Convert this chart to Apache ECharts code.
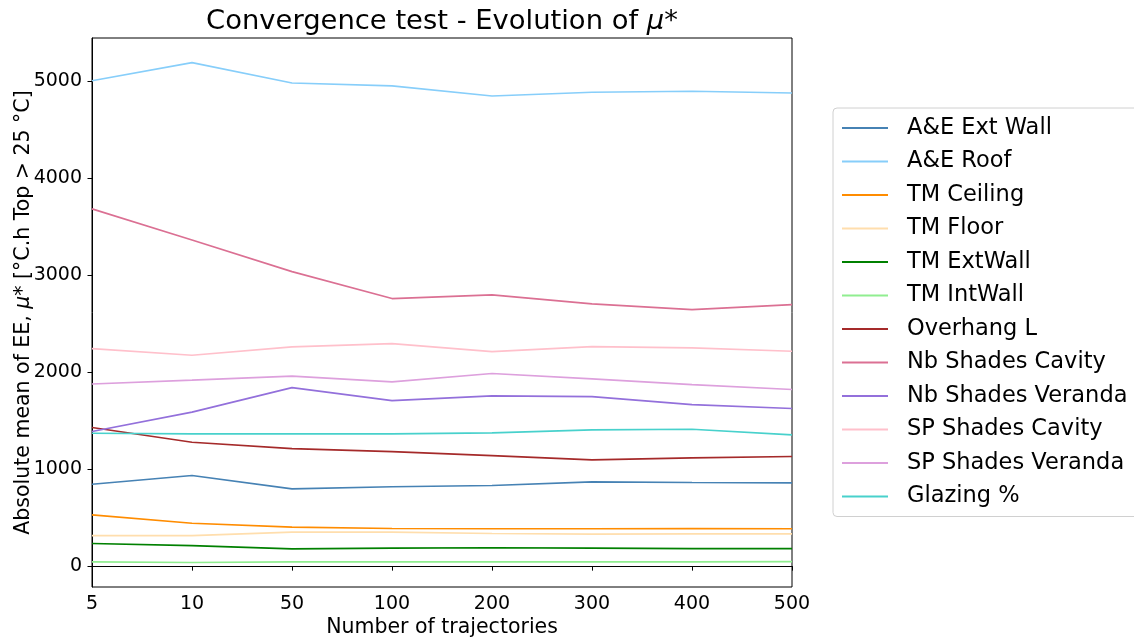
<!DOCTYPE html>
<html>
<head>
<meta charset="utf-8">
<script src="https://cdn.jsdelivr.net/npm/echarts@6/dist/echarts.min.js"></script>
<style>
html,body{margin:0;padding:0;background:#fff;}
#chart{width:1134px;height:641px;}
</style>
</head>
<body>
<div id="chart"></div>
<script>
const categories = ['5', '10', '50', '100', '200', '300', '400', '500'];

const aeExtWall        = [845, 934, 797, 818, 831, 869, 862, 859];
const aeRoof           = [5006, 5192, 4982, 4952, 4848, 4887, 4897, 4879];
const tmCeiling        = [529, 443, 402, 388, 385, 385, 387, 385];
const tmFloor          = [315, 315, 351, 351, 336, 330, 333, 333];
const tmExtWall        = [233, 212, 178, 186, 189, 186, 181, 181];
const tmIntWall        = [44, 37, 44, 44, 44, 44, 44, 47];
const overhangL        = [1429, 1278, 1212, 1181, 1140, 1096, 1116, 1130];
const nbShadesCavity   = [3684, 3364, 3037, 2759, 2797, 2704, 2645, 2697];
const nbShadesVeranda  = [1388, 1588, 1841, 1707, 1756, 1748, 1666, 1625];
const spShadesCavity   = [2243, 2175, 2261, 2295, 2212, 2264, 2251, 2216];
const spShadesVeranda  = [1879, 1918, 1959, 1900, 1986, 1931, 1872, 1821];
const glazing          = [1371, 1364, 1364, 1364, 1374, 1405, 1412, 1354];

const seriesNames = ['A&E Ext Wall', 'A&E Roof', 'TM Ceiling', 'TM Floor', 'TM ExtWall', 'TM IntWall',
  'Overhang L', 'Nb Shades Cavity', 'Nb Shades Veranda', 'SP Shades Cavity', 'SP Shades Veranda', 'Glazing %'];
const seriesData = [aeExtWall, aeRoof, tmCeiling, tmFloor, tmExtWall, tmIntWall,
  overhangL, nbShadesCavity, nbShadesVeranda, spShadesCavity, spShadesVeranda, glazing];
const seriesColors = ['#4682B4', '#87CEFA', '#FF8C00', '#FFDEAD', '#008000', '#90EE90',
  '#A52A2A', '#DB7093', '#9370DB', '#FFC0CB', '#DDA0DD', '#48D1CC'];

const font = 'DejaVu Sans';
const chart = echarts.init(document.getElementById('chart'));

chart.setOption({
  animation: false,
  backgroundColor: '#fff',
  textStyle: { fontFamily: font },
  title: {
    text: 'Convergence test - Evolution of {i|μ}*',
    left: 437,
    top: 3,
    textAlign: 'center',
    textStyle: {
      fontFamily: font, fontSize: 27.4, fontWeight: 'normal', color: '#000',
      rich: { i: { fontFamily: font, fontSize: 27.4, fontStyle: 'italic', color: '#000' } }
    }
  },
  grid: {
    left: 92, right: 342, top: 38, bottom: 54,
    containLabel: false,
    outerBoundsMode: 'none',
    show: true, borderColor: '#000', borderWidth: 1, backgroundColor: 'transparent'
  },
  legend: {
    orient: 'vertical',
    left: 833,
    top: 108,
    padding: [8, 30, 8, 9],
    itemGap: 9.5,
    itemWidth: 46,
    itemHeight: 2,
    icon: 'rect',
    borderColor: '#d0d0d0',
    borderWidth: 1,
    borderRadius: 4,
    backgroundColor: '#fff',
    textStyle: { fontFamily: font, fontSize: 22.5, color: '#000', lineHeight: 24, padding: [0, 0, 0, 14] },
    data: seriesNames
  },
  xAxis: {
    type: 'category',
    data: categories,
    boundaryGap: false,
    name: 'Number of trajectories',
    nameLocation: 'middle',
    nameGap: 30,
    nameMoveOverlap: false,
    nameTextStyle: { fontFamily: font, fontSize: 20.5, color: '#000' },
    axisLine: { show: true, lineStyle: { color: '#000', width: 1 } },
    axisTick: { show: true, inside: false, length: 4.5, lineStyle: { color: '#000' } },
    axisLabel: { fontFamily: font, fontSize: 19, color: '#000', margin: 8 },
    splitLine: { show: false }
  },
  yAxis: {
    type: 'value',
    min: -215,
    max: 5446,
    splitNumber: 5,
    name: 'Absolute mean of EE, {i|μ}* [°C.h Top > 25 °C]',
    nameLocation: 'middle',
    nameGap: 58,
    nameMoveOverlap: false,
    nameRotate: 90,
    nameTextStyle: {
      fontFamily: font, fontSize: 20.5, color: '#000',
      rich: { i: { fontFamily: font, fontSize: 20.5, fontStyle: 'italic', color: '#000' } }
    },
    axisLine: { show: true, lineStyle: { color: '#000', width: 1 } },
    axisTick: { show: true, inside: false, length: 4.5, lineStyle: { color: '#000' } },
    axisLabel: {
      fontFamily: font, fontSize: 19, color: '#000', margin: 10,
      showMinLabel: false, showMaxLabel: false,
      formatter: function (v) { return (v % 1000 === 0) ? String(v) : ''; }
    },
    splitLine: { show: false }
  },
  series: seriesNames.map(function (name, i) {
    return {
      name: name,
      type: 'line',
      data: seriesData[i],
      symbol: 'none',
      showSymbol: false,
      lineStyle: { color: seriesColors[i], width: 1.6 },
      itemStyle: { color: seriesColors[i] },
      emphasis: { disabled: true }
    };
  })
});
</script>
</body>
</html>
